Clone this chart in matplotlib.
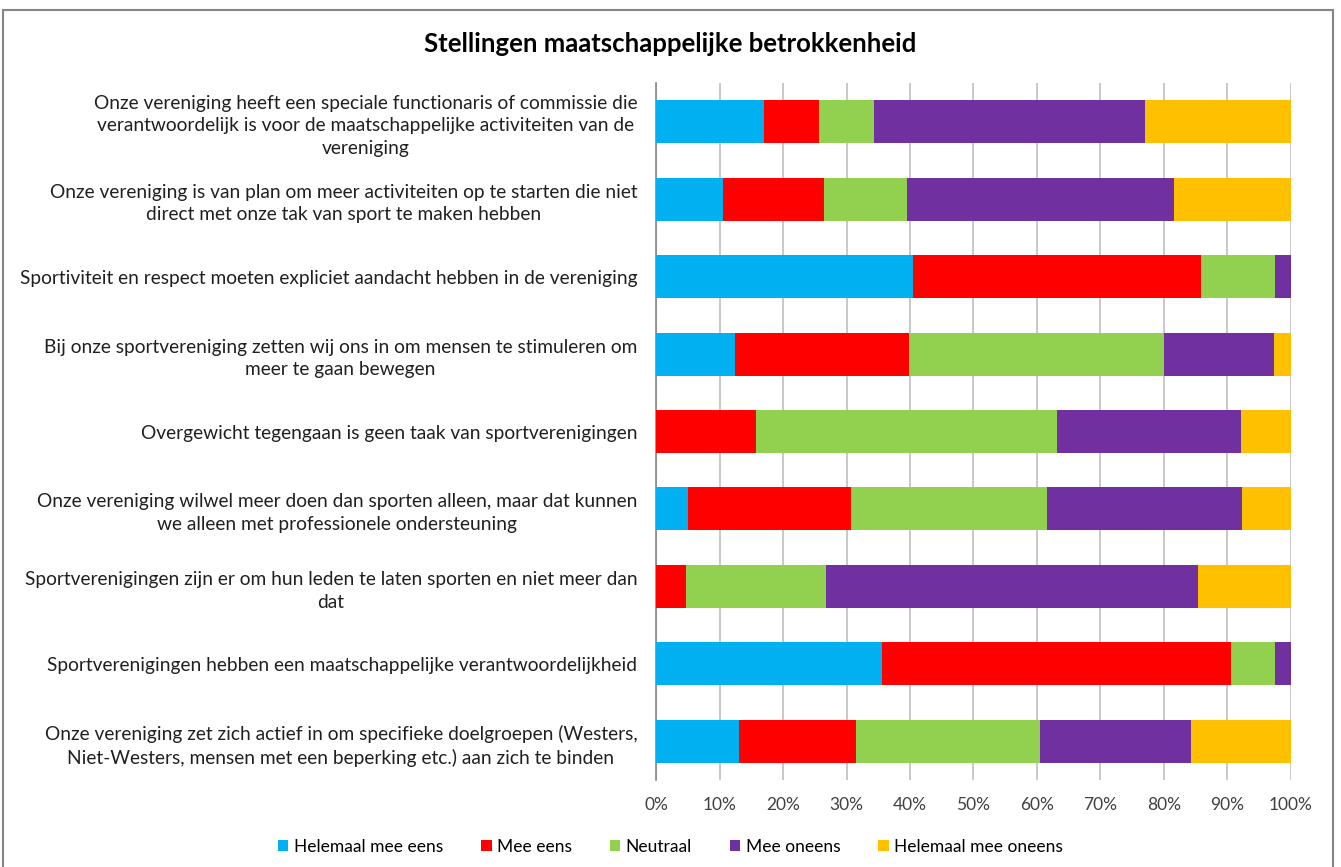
import numpy as np
import matplotlib
matplotlib.use("Agg")
from matplotlib import pyplot as plt
from matplotlib.patches import Rectangle

plt.rcParams['font.family'] = ['Lato', 'DejaVu Sans']

# Statements (top to bottom) and answer shares (%)
statements = [
    "Onze vereniging heeft een speciale functionaris of commissie die\n"
    "verantwoordelijk is voor de maatschappelijke activiteiten van de\nvereniging",
    "Onze vereniging is van plan om meer activiteiten op te starten die niet\n"
    "direct met onze tak van sport te maken hebben",
    "Sportiviteit en respect moeten expliciet aandacht hebben in de vereniging",
    "Bij onze sportvereniging zetten wij ons in om mensen te stimuleren om\n"
    "meer te gaan bewegen",
    "Overgewicht tegengaan is geen taak van sportverenigingen",
    "Onze vereniging wilwel meer doen dan sporten alleen, maar dat kunnen\n"
    "we alleen met professionele ondersteuning",
    "Sportverenigingen zijn er om hun leden te laten sporten en niet meer dan\ndat",
    "Sportverenigingen hebben een maatschappelijke verantwoordelijkheid",
    "Onze vereniging zet zich actief in om specifieke doelgroepen (Westers,\n"
    "Niet-Westers, mensen met een beperking etc.) aan zich te binden",
]

series_names = ["Helemaal mee eens", "Mee eens", "Neutraal", "Mee oneens",
                "Helemaal mee oneens"]
helemaal_eens   = [17.0, 10.5, 40.5, 12.5,  0.0,  5.0,  0.0, 35.6, 13.0]
mee_eens        = [ 8.7, 15.9, 45.3, 27.4, 15.7, 25.7,  4.8, 54.9, 18.5]
neutraal        = [ 8.6, 13.1, 11.7, 40.1, 47.5, 30.9, 22.0,  7.0, 29.0]
mee_oneens      = [42.7, 42.0,  2.5, 17.4, 28.9, 30.7, 58.6,  2.5, 23.7]
helemaal_oneens = [23.0, 18.5,  0.0,  2.6,  7.9,  7.7, 14.6,  0.0, 15.8]

colors = ["#00B0F0", "#FF0000", "#92D050", "#7030A0", "#FFC000"]

fig = plt.figure(figsize=(13.41, 8.67), dpi=100)
ax = fig.add_axes([0.4892, 0.1003, 0.4735, 0.804])

y = np.arange(len(statements))
left = np.zeros(len(statements))
for name, vals, clr in zip(series_names,
                           [helemaal_eens, mee_eens, neutraal, mee_oneens, helemaal_oneens],
                           colors):
    vals = np.array(vals)
    ax.barh(y, vals, left=left, height=0.556, color=clr, label=name, zorder=3)
    left += vals

ax.set_ylim(len(statements) - 0.5, -0.5)
ax.set_xlim(0, 100)
ax.set_xticks(np.arange(0, 101, 10))
ax.set_xticklabels([f"{v}%" for v in range(0, 101, 10)], fontsize=12.5, color="#404040")
ax.set_yticks(y)
ylabels = ax.set_yticklabels(statements, fontsize=13.8, color="#202020",
                             multialignment="center")
for lbl in ylabels:
    lbl.set_linespacing(1.4)
ax.tick_params(axis="y", length=0, pad=13.5)
ax.tick_params(axis="x", length=0, pad=12)
ax.grid(axis="x", color="#BFBFBF", linewidth=1.2, zorder=0)
for s in ["top", "right", "bottom"]:
    ax.spines[s].set_visible(False)
ax.spines["left"].set_color("#868686")
ax.spines["left"].set_linewidth(1.2)

fig.text(0.4996, 0.949, "Stellingen maatschappelijke betrokkenheid",
         ha="center", va="center", fontsize=18.5, fontweight="bold")

fig.legend(loc="center", bbox_to_anchor=(0.5, 0.023), ncol=5, frameon=False,
           fontsize=12.5, handlelength=0.6, handleheight=0.6, handletextpad=0.3,
           columnspacing=2.2)

# Chart area border
fig.patches.append(Rectangle((3 / 1341, -0.01), 1330 / 1341, 1.01 - 10 / 867,
                             transform=fig.transFigure, fill=False,
                             edgecolor="#868686", linewidth=1.5))

fig.savefig("out.png", dpi=100)
